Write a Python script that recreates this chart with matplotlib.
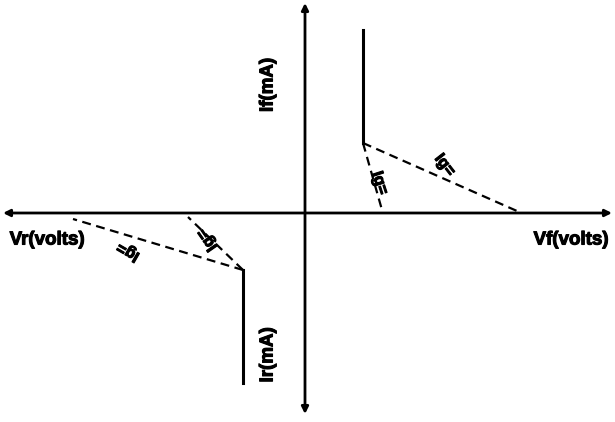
import matplotlib
matplotlib.use("Agg")
import matplotlib.pyplot as plt
import matplotlib.patheffects as pe

# diode characteristic sketch, arbitrary units, origin at the axes crossing
x_range = [-305, 310]
y_range = [-209, 213]

# forward branch: knee point, vertical current rise, two dashed tangent lines to the V axis
fwd_knee = (58, 70)
fwd_top = 183
fwd_dash_ends = [(77, 3), (212, 2)]
fwd_labels = ["Ig=", "Ig="]
fwd_label_pos = [(75, 30), (140, 48)]
fwd_label_rot = [-72, -52]

# reverse branch
rev_knee = (-62, -57)
rev_bottom = -170
rev_dash_ends = [(-117, -4), (-232, -6)]
rev_labels = ["Ig=", "Ig="]
rev_label_pos = [(-98, -27), (-177, -39)]
rev_label_rot = [125, 150]

axis_labels = ["If(mA)", "Ir(mA)", "Vr(volts)", "Vf(volts)"]

fig = plt.figure(figsize=(6.15, 4.22), dpi=100)
ax = fig.add_axes([0, 0, 1, 1])
ax.set_xlim(x_range)
ax.set_ylim(y_range)
ax.axis("off")

thick = [pe.withStroke(linewidth=0.8, foreground="black")]

arrow = dict(arrowstyle="<|-|>", color="black", lw=2.0, mutation_scale=10,
             shrinkA=0, shrinkB=0)
ax.annotate("", xy=(x_range[0] + 3, 0), xytext=(x_range[1] - 3, 0), arrowprops=arrow)
ax.annotate("", xy=(0, y_range[0] + 8), xytext=(0, y_range[1] - 3), arrowprops=arrow)

# forward
ax.plot([fwd_knee[0], fwd_knee[0]], [fwd_knee[1], fwd_top], color="black", lw=2.2)
for end in fwd_dash_ends:
    ax.plot([fwd_knee[0], end[0]], [fwd_knee[1], end[1]], color="black", lw=1.6,
            ls=(0, (4, 2.5)))
for t, p, r in zip(fwd_labels, fwd_label_pos, fwd_label_rot):
    ax.text(p[0], p[1], t, rotation=r, fontsize=11.5, fontweight="bold",
            family="Liberation Sans", ha="center", va="center", path_effects=thick)

# reverse
ax.plot([rev_knee[0], rev_knee[0]], [rev_knee[1], rev_bottom], color="black", lw=2.2)
for end in rev_dash_ends:
    ax.plot([rev_knee[0], end[0]], [rev_knee[1], end[1]], color="black", lw=1.6,
            ls=(0, (4, 2.5)))
for t, p, r in zip(rev_labels, rev_label_pos, rev_label_rot):
    ax.text(p[0], p[1], t, rotation=r, fontsize=11.5, fontweight="bold",
            family="Liberation Sans", ha="center", va="center", path_effects=thick)

font = dict(fontsize=13.5, fontweight="bold", family="Liberation Sans",
            ha="center", va="center", path_effects=thick)
ax.text(-37, 128, axis_labels[0], rotation=90, **font)
ax.text(-37, -142, axis_labels[1], rotation=90, **font)
ax.text(-258, -27, axis_labels[2], **font)
ax.text(266, -27, axis_labels[3], **font)

fig.savefig("out.png", dpi=100, facecolor="white")
